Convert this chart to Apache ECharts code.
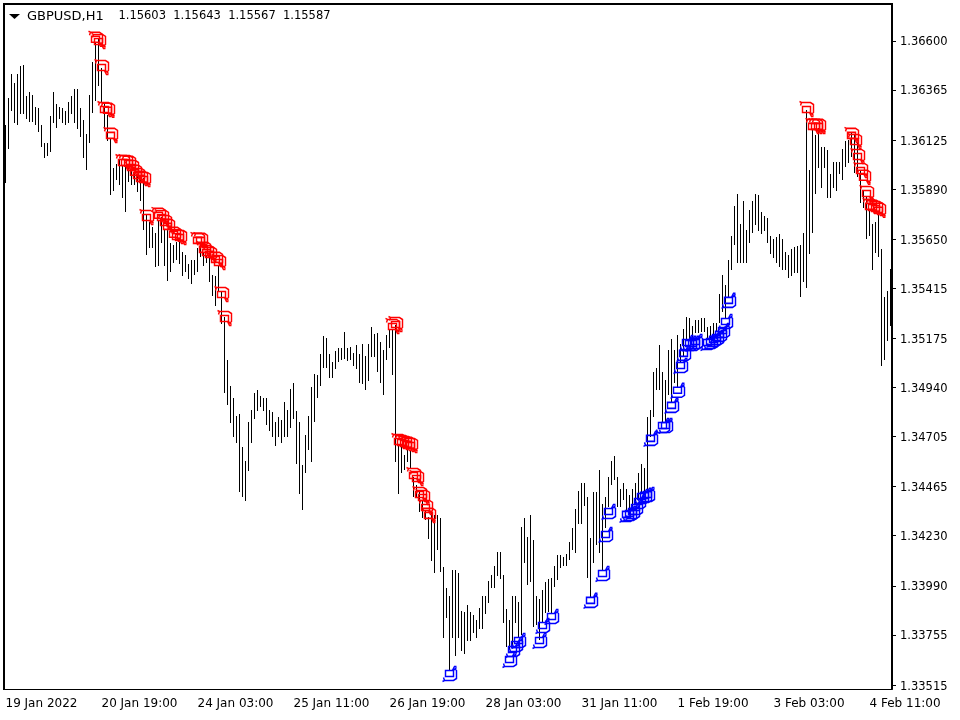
<!DOCTYPE html>
<html>
<head>
<meta charset="utf-8">
<title>GBPUSD,H1</title>
<script src="https://cdn.jsdelivr.net/npm/echarts@6/dist/echarts.min.js"></script>
<style>
html, body { margin: 0; padding: 0; background: #fff; }
#chart { width: 960px; height: 720px; }
</style>
</head>
<body>
<div id="chart"></div>
<script>
// prices are kept in points (1.36600 = 136600)
const highs = [
136198,136327,136442,136399,136442,136480,136485,136337,136356,136341,136284,136279,136198,136111,136111,136241,
136356,136298,136284,136279,136265,136308,136337,136370,136370,136279,136222,136155,136341,136499,136590,136614,
136471,136303,136246,136135,135992,136011,136030,136006,136006,136006,135982,135973,135958,135944,135944,135767,
135733,135709,135680,135743,135757,135695,135695,135632,135623,135637,135647,135589,135575,135532,135551,135551,
135609,135637,135589,135575,135565,135479,135474,135522,135403,135278,135072,134947,134890,134804,134813,134655,
134588,134775,134833,134914,134928,134900,134890,134890,134833,134823,134775,134799,134785,134871,134833,134933,
134962,134828,134775,134569,134713,134804,134943,135005,135000,135101,135187,135177,135101,135062,135115,135130,
135130,135206,135130,135134,135105,135144,135101,135149,135091,135149,135230,135197,135201,135158,135120,135192,
135216,135216,135240,134665,134655,134617,134655,134641,134512,134473,134449,134401,134354,134320,134339,134330,
134330,134315,134081,133980,133942,134066,134066,134052,133870,133865,133898,133865,133851,133827,133884,133942,
133942,134013,134042,134085,134152,134152,134042,133879,133827,133942,133942,133913,134272,134315,134224,134330,
134210,133942,133927,133970,134009,134023,134028,134085,134138,134138,134128,134143,134200,134267,134358,134445,
134483,134483,134416,134219,134440,134440,134545,134382,134416,134512,134588,134612,134512,134454,134483,134454,
134425,134454,134483,134531,134574,134555,134799,134833,135015,135034,135144,135015,134976,135120,135173,135120,
135192,135149,135221,135278,135273,135235,135264,135264,135273,135273,135230,135235,135249,135249,135388,135479,
135431,135551,135666,135810,135867,135723,135834,135695,135791,135834,135867,135862,135781,135762,135752,135666,
135652,135661,135676,135652,135589,135575,135604,135613,135618,135623,135680,136270,135982,136178,136150,136183,
136092,136092,136078,135963,136020,136020,136020,136083,136121,136126,136159,136150,136111,135982,135886,135853,
135791,135723,135733,135767,135604,135374,135403,135508
];
const lows = [
135920,136083,136265,136207,136198,136250,136250,136226,136212,136212,136198,136164,136092,136040,136049,136068,
136207,136183,136226,136207,136198,136207,136250,136207,136178,136140,136040,135982,136111,136255,136313,136384,
136303,136178,136121,135862,135882,135934,135910,135848,135781,135925,135910,135910,135877,135834,135695,135575,
135609,135609,135518,135522,135632,135522,135450,135494,135537,135551,135532,135474,135494,135460,135436,135479,
135494,135565,135522,135537,135446,135379,135331,135403,135244,134914,134856,134770,134703,134674,134440,134416,
134397,134540,134674,134789,134828,134847,134828,134761,134732,134703,134660,134703,134674,134703,134703,134746,
134789,134574,134430,134354,134531,134641,134583,134775,134890,134947,135034,135034,134986,134986,135029,135062,
135072,135077,135067,135072,135043,135029,134962,134957,134928,134971,135086,135086,135015,134962,134904,135072,
135130,135000,134583,134430,134531,134545,134583,134550,134416,134416,134344,134315,134306,134215,134109,134052,
134162,134057,133740,133836,133587,133740,133654,133740,133678,133664,133726,133726,133764,133740,133784,133784,
133855,133908,133980,133980,134037,134023,133812,133697,133683,133697,133812,133745,133755,134100,133994,134009,
133793,133803,133731,133817,133860,133865,133860,133985,134018,134076,134085,134085,134114,134162,134148,134286,
134286,134373,134028,133937,134100,134186,134148,134066,134267,134368,134473,134497,134368,134368,134401,134354,
134330,134363,134382,134401,134440,134440,134435,134703,134799,134928,134928,134770,134770,134904,134866,134962,
134943,135058,135086,135168,135168,135168,135201,135201,135206,135206,135173,135177,135192,135206,135249,135302,
135273,135369,135503,135623,135537,135537,135537,135537,135632,135680,135719,135690,135676,135690,135632,135580,
135561,135537,135518,135503,135503,135465,135474,135489,135489,135374,135446,135417,135580,135680,135867,135992,
135896,135992,135848,135848,135896,135882,135963,135934,135996,136016,136044,135968,135949,135824,135800,135652,
135666,135503,135585,135565,135043,135072,135163,135235
];

// signal arrows: bar number and price
const sellBars = [30,31,32,33,34,35,39,40,41,42,43,44,45,46,47,51,52,53,54,56,57,58,64,65,66,67,68,70,71,72,73,
  129,130,131,132,133,134,135,136,137,138,139,140,141,267,269,270,271,282,283,284,285,286,287,288,289,290,291];
const sellPrices = [136610,136600,136475,136274,136270,136150,136020,136020,136016,135996,135973,135958,135944,135939,135757,
  135767,135757,135733,135714,135676,135666,135661,135647,135647,135604,135589,135580,135556,135541,135388,135273,
  135235,135244,134684,134679,134674,134670,134665,134521,134507,134430,134416,134368,134330,
  136274,136193,136193,136193,136150,136121,136049,135982,135949,135872,135810,135805,135800,135791];
const buyBars = [148,168,169,170,171,178,179,182,195,199,200,201,207,208,209,210,211,212,213,214,215,219,220,222,224,225,
  226,227,228,229,230,234,235,236,237,238,239,240,241];
const buyPrices = [133568,133635,133683,133707,133726,133726,133798,133841,133918,134047,134234,134344,134330,134334,134344,
  134363,134392,134416,134421,134425,134694,134756,134756,134852,134924,135043,135101,135153,135149,135149,135158,
  135153,135158,135168,135177,135192,135211,135254,135355];

const xTickLabels = ['19 Jan 2022','20 Jan 19:00','24 Jan 03:00','25 Jan 11:00','26 Jan 19:00','28 Jan 03:00','31 Jan 11:00','1 Feb 19:00','3 Feb 03:00','4 Feb 11:00'];
const yTickLabels = ['1.36600','1.36365','1.36125','1.35890','1.35650','1.35415','1.35175','1.34940','1.34705','1.34465','1.34230','1.33990','1.33755','1.33515'];
const headerSymbol = 'GBPUSD,H1';
const headerPrices = '1.15603  1.15643  1.15567  1.15587';

const TICK_EVERY = 32;
const FONT = 'DejaVu Sans';
const SELL_ARROW = 'path://M0 0L2 1L11 1L14 3L14 11L12 13M2 1L1 4M3 5L11 5L11 11L3 11ZM3 6L3 10M10 11L12 15L14 15M11 11L14 14';
// same glyph flipped upside down
const BUY_ARROW = 'path://M0 15L2 14L11 14L14 12L14 4L12 2M2 14L1 11M3 10L11 10L11 4L3 4ZM3 9L3 5M10 4L12 0L14 0M11 4L14 1';

const toPrice = p => p / 100000;
const barNames = highs.map((h, i) => String(i));

var myChart = echarts.init(document.getElementById('chart'));

myChart.setOption({
    animation: false,
    backgroundColor: '#fff',
    title: {
        text: '{sym|' + headerSymbol + '}    ' + headerPrices,
        left: 22,
        top: 5,
        textStyle: {
            fontFamily: FONT, fontSize: 11.5, fontWeight: 'normal', color: '#000',
            rich: { sym: { fontFamily: FONT, fontSize: 13, color: '#000' } }
        }
    },
    grid: { left: 4, top: 5, width: 888, height: 684, containLabel: false },
    xAxis: {
        type: 'category',
        data: barNames,
        boundaryGap: true,
        axisLine: { lineStyle: { color: '#000', width: 1 } },
        axisTick: { interval: TICK_EVERY - 1, alignWithLabel: true, length: 5, lineStyle: { color: '#000' } },
        axisLabel: {
            interval: TICK_EVERY - 1,
            align: 'left',
            margin: 9,
            color: '#000',
            fontFamily: FONT,
            fontSize: 12,
            formatter: (value, index) => xTickLabels[index / TICK_EVERY] || ''
        }
    },
    yAxis: {
        type: 'value',
        position: 'right',
        min: 1.33496,
        max: 1.36772,
        scale: true,
        splitLine: { show: false },
        axisLine: { show: true, lineStyle: { color: '#000', width: 2 } },
        axisTick: { show: true, length: 4, customValues: yTickLabels.map(Number), lineStyle: { color: '#000' } },
        axisLabel: {
            margin: 8,
            color: '#000',
            fontFamily: FONT,
            fontSize: 11.5,
            customValues: yTickLabels.map(Number),
            formatter: value => '{v|' + value.toFixed(5) + '}',
            rich: { v: { fontFamily: FONT, fontSize: 11.5, color: '#000', padding: [3, 0, 0, 0] } }
        }
    },
    graphic: [
        // frame on the top and left, the axes draw the other two sides
        { type: 'rect', shape: { x: 3, y: 3, width: 890, height: 2 }, style: { fill: '#000' } },
        { type: 'rect', shape: { x: 3, y: 3, width: 2, height: 687 }, style: { fill: '#000' } },
        { type: 'polygon', shape: { points: [[9, 14], [20, 14], [14.5, 19]] }, style: { fill: '#000' } }
    ],
    series: [
        {
            type: 'custom',
            name: 'bars',
            clip: true,
            data: highs.map((h, i) => [i, toPrice(lows[i]), toPrice(h)]),
            encode: { x: 0, y: [1, 2] },
            renderItem: function (params, api) {
                var low = api.coord([api.value(0), api.value(1)]);
                var high = api.coord([api.value(0), api.value(2)]);
                return {
                    type: 'line',
                    shape: { x1: low[0], y1: Math.round(low[1]), x2: low[0], y2: Math.round(high[1]) },
                    style: { stroke: '#000', lineWidth: 1 }
                };
            }
        },
        {
            type: 'scatter',
            name: 'sell',
            symbol: SELL_ARROW,
            symbolSize: [14, 15],
            itemStyle: { color: 'none', borderColor: '#ff0000', borderWidth: 1.5, opacity: 1 },
            data: sellBars.map((b, i) => [b, toPrice(sellPrices[i])]),
            z: 5
        },
        {
            type: 'scatter',
            name: 'buy',
            symbol: BUY_ARROW,
            symbolSize: [14, 15],
            itemStyle: { color: 'none', borderColor: '#0000ff', borderWidth: 1.5, opacity: 1 },
            data: buyBars.map((b, i) => [b, toPrice(buyPrices[i])]),
            z: 5
        }
    ]
});
</script>
</body>
</html>
